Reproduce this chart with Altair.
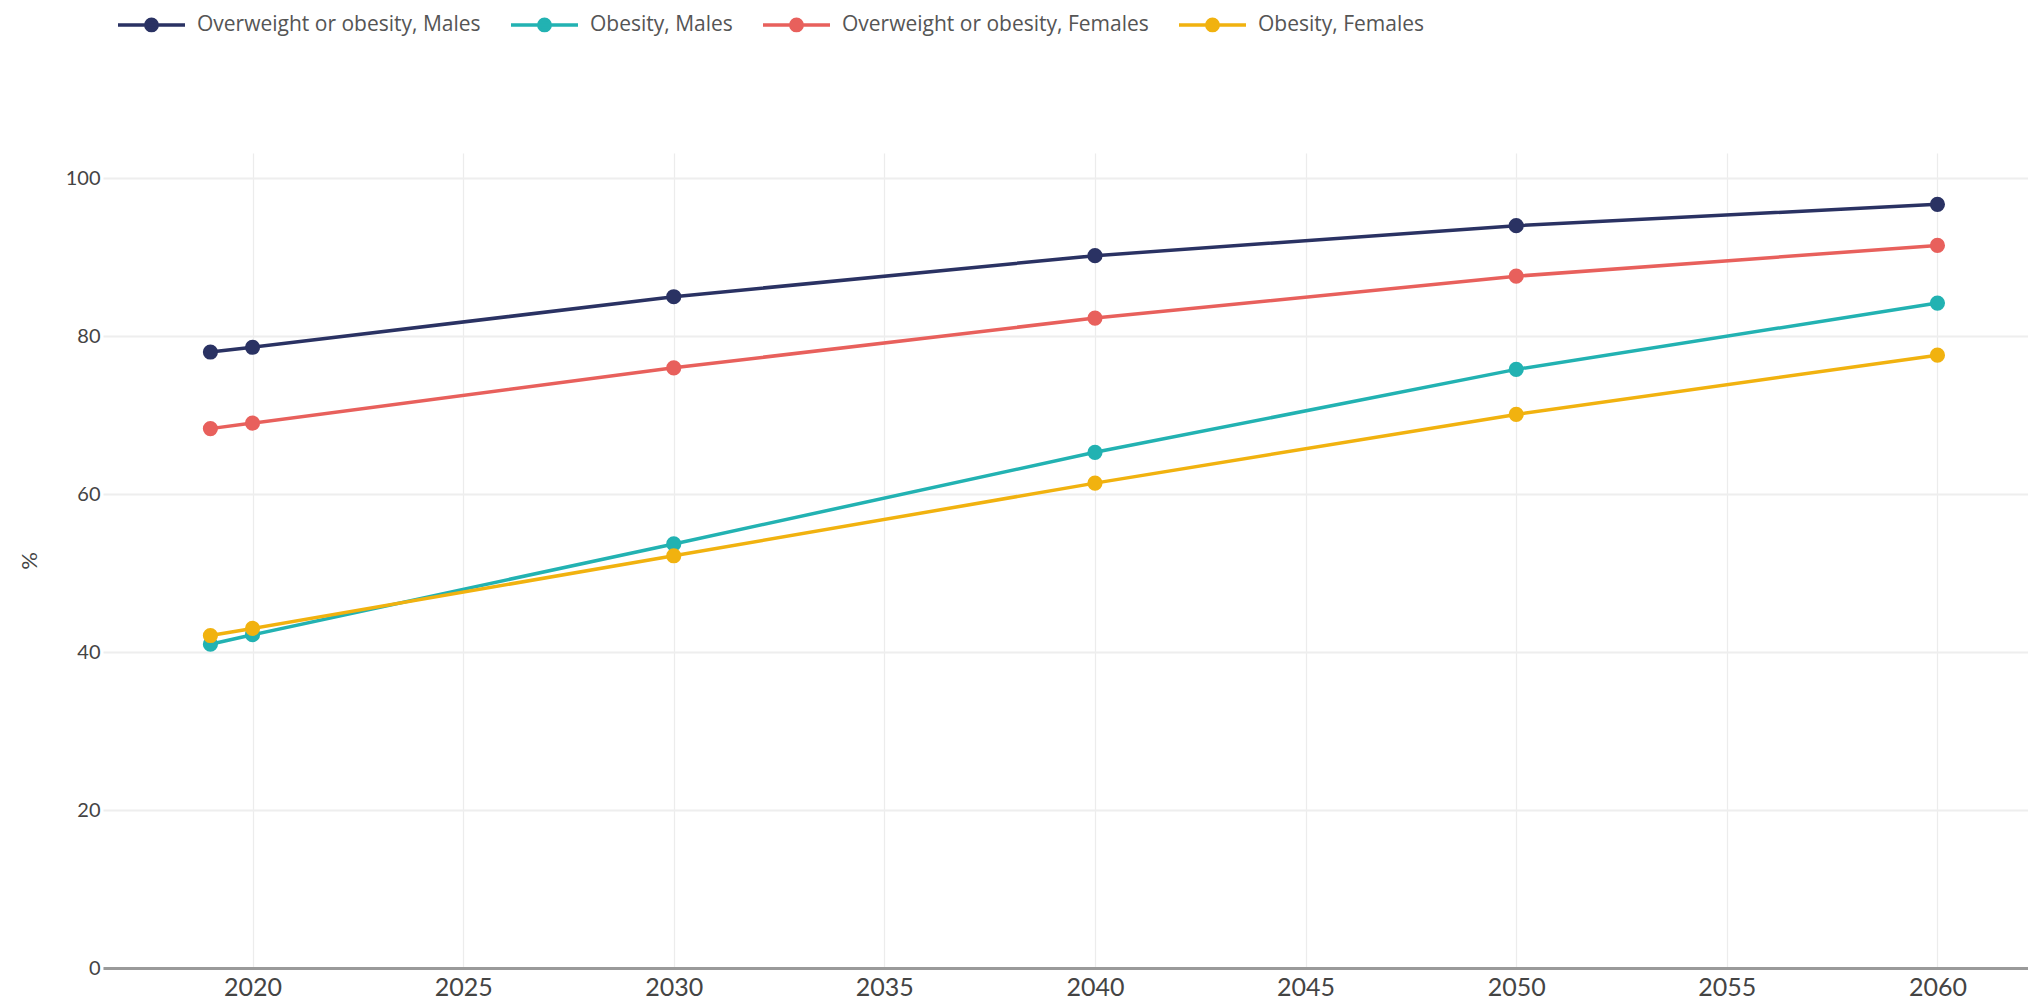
import altair as alt
import pandas as pd

# Projected prevalence (%) by year
years = [2019, 2020, 2030, 2040, 2050, 2060]
overweight_males = [78.0, 78.6, 85.0, 90.2, 94.0, 96.7]
obesity_males = [41.0, 42.2, 53.7, 65.3, 75.8, 84.2]
overweight_females = [68.3, 69.0, 76.0, 82.3, 87.6, 91.5]
obesity_females = [42.1, 43.0, 52.2, 61.4, 70.1, 77.6]

series_names = [
    "Overweight or obesity, Males",
    "Obesity, Males",
    "Overweight or obesity, Females",
    "Obesity, Females",
]
series_values = [overweight_males, obesity_males, overweight_females, obesity_females]
series_colors = ["#2a3263", "#22b2b2", "#e8605c", "#f1b20f"]

rows = []
for order, (name, vals) in enumerate(zip(series_names, series_values)):
    for yr, v in zip(years, vals):
        rows.append({"year": yr, "value": v, "series": name, "order": order})
df = pd.DataFrame(rows)

FONT = "Lato"
LEGEND_FONT = "Open Sans"

# legend glyph: short line with a dot in the middle
legend_symbol = "M-1,0L1,0M0.17,0A0.17,0.17,0,1,1,-0.17,0A0.17,0.17,0,1,1,0.17,0Z"

color = alt.Color(
    "series:N",
    scale=alt.Scale(domain=series_names, range=series_colors),
    sort=series_names,
    legend=alt.Legend(
        title=None,
        orient="none",
        direction="horizontal",
        columns=4,
        legendX=13,
        legendY=-164,
        padding=0,
        symbolType=legend_symbol,
        symbolSize=4489,
        symbolStrokeWidth=3.5,
        symbolOpacity=1,
        labelFont=LEGEND_FONT,
        labelFontSize=21,
        labelColor="#555555",
        labelOffset=10,
        labelLimit=600,
        columnPadding=23,
    ),
)

x = alt.X(
    "year:Q",
    scale=alt.Scale(domain=[2016.45, 2062.15], nice=False, zero=False),
    axis=alt.Axis(
        title=None,
        values=list(range(2020, 2061, 5)),
        format="d",
        labelFont=FONT,
        labelFontSize=25,
        labelColor="#444444",
        labelPadding=7,
        ticks=False,
        domain=True,
        domainColor="#9a9a9a",
        domainWidth=3,
        grid=True,
        gridColor="#ececec",
        gridWidth=1.2,
    ),
)

y = alt.Y(
    "value:Q",
    scale=alt.Scale(domain=[0, 103.2], nice=False),
    axis=alt.Axis(
        title="%",
        titleFont=FONT,
        titleFontSize=22,
        titleFontWeight="normal",
        titleColor="#444444",
        titlePadding=24,
        values=[0, 20, 40, 60, 80, 100],
        labelFont=FONT,
        labelFontSize=20,
        labelColor="#444444",
        labelPadding=3,
        ticks=False,
        domain=False,
        grid=True,
        gridColor="#eeeeee",
        gridWidth=2,
    ),
)

base = alt.Chart(df).encode(x=x, y=y, color=color, detail="order:O")

lines = base.mark_line(strokeWidth=3.5).encode(order=alt.Order("year:Q"))
points = base.mark_point(filled=True, size=230, opacity=1)

chart = (
    alt.layer(lines, points)
    .properties(
        width=1925,
        height=815,
        padding={"left": 103, "top": 153, "right": 0, "bottom": 33},
        autosize=alt.AutoSizeParams(type="none"),
        background="white",
    )
    .configure_view(strokeWidth=0, stroke="transparent")
)

chart.save("out.html", embed_options={"renderer": "svg", "actions": False})
